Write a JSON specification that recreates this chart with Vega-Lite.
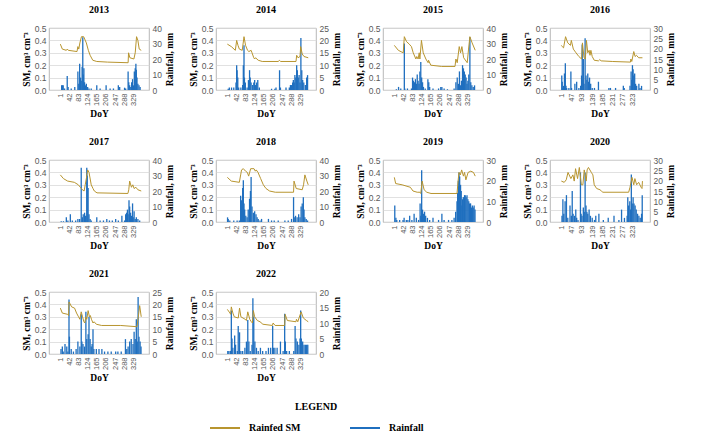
{
"$schema": "https://vega.github.io/schema/vega-lite/v6.json",
"padding": {"left": 20, "top": 4, "right": 4, "bottom": 4},
"spacing": 17,
"datasets": {
"sm": [
{"y":2013,"d":1,"v":0.37},{"y":2013,"d":10,"v":0.33},{"y":2013,"d":28,"v":0.32},{"y":2013,"d":32,"v":0.33},{"y":2013,"d":37,"v":0.32},{"y":2013,"d":76,"v":0.31},{"y":2013,"d":80,"v":0.35},{"y":2013,"d":84,"v":0.33},{"y":2013,"d":89,"v":0.38},{"y":2013,"d":96,"v":0.43},{"y":2013,"d":106,"v":0.43},{"y":2013,"d":118,"v":0.38},{"y":2013,"d":127,"v":0.32},{"y":2013,"d":135,"v":0.28},{"y":2013,"d":147,"v":0.24},{"y":2013,"d":165,"v":0.23},{"y":2013,"d":213,"v":0.225},{"y":2013,"d":306,"v":0.22},{"y":2013,"d":308,"v":0.30},{"y":2013,"d":314,"v":0.26},{"y":2013,"d":332,"v":0.25},{"y":2013,"d":338,"v":0.30},{"y":2013,"d":344,"v":0.43},{"y":2013,"d":350,"v":0.40},{"y":2013,"d":356,"v":0.33},{"y":2013,"d":365,"v":0.32},
{"y":2014,"d":1,"v":0.37},{"y":2014,"d":19,"v":0.35},{"y":2014,"d":37,"v":0.32},{"y":2014,"d":43,"v":0.40},{"y":2014,"d":49,"v":0.36},{"y":2014,"d":55,"v":0.33},{"y":2014,"d":68,"v":0.32},{"y":2014,"d":76,"v":0.43},{"y":2014,"d":83,"v":0.36},{"y":2014,"d":92,"v":0.32},{"y":2014,"d":98,"v":0.31},{"y":2014,"d":108,"v":0.32},{"y":2014,"d":112,"v":0.30},{"y":2014,"d":120,"v":0.26},{"y":2014,"d":124,"v":0.25},{"y":2014,"d":128,"v":0.26},{"y":2014,"d":140,"v":0.24},{"y":2014,"d":158,"v":0.23},{"y":2014,"d":231,"v":0.23},{"y":2014,"d":235,"v":0.24},{"y":2014,"d":241,"v":0.23},{"y":2014,"d":310,"v":0.23},{"y":2014,"d":313,"v":0.28},{"y":2014,"d":319,"v":0.26},{"y":2014,"d":328,"v":0.27},{"y":2014,"d":331,"v":0.35},{"y":2014,"d":338,"v":0.29},{"y":2014,"d":346,"v":0.27},{"y":2014,"d":365,"v":0.26},
{"y":2015,"d":1,"v":0.36},{"y":2015,"d":19,"v":0.32},{"y":2015,"d":41,"v":0.30},{"y":2015,"d":46,"v":0.43},{"y":2015,"d":56,"v":0.39},{"y":2015,"d":68,"v":0.37},{"y":2015,"d":78,"v":0.35},{"y":2015,"d":86,"v":0.30},{"y":2015,"d":98,"v":0.25},{"y":2015,"d":102,"v":0.27},{"y":2015,"d":108,"v":0.25},{"y":2015,"d":113,"v":0.30},{"y":2015,"d":116,"v":0.25},{"y":2015,"d":123,"v":0.40},{"y":2015,"d":131,"v":0.30},{"y":2015,"d":143,"v":0.25},{"y":2015,"d":153,"v":0.22},{"y":2015,"d":155,"v":0.24},{"y":2015,"d":165,"v":0.20},{"y":2015,"d":214,"v":0.19},{"y":2015,"d":274,"v":0.19},{"y":2015,"d":278,"v":0.25},{"y":2015,"d":284,"v":0.22},{"y":2015,"d":293,"v":0.35},{"y":2015,"d":299,"v":0.30},{"y":2015,"d":305,"v":0.35},{"y":2015,"d":313,"v":0.26},{"y":2015,"d":329,"v":0.22},{"y":2015,"d":335,"v":0.33},{"y":2015,"d":341,"v":0.43},{"y":2015,"d":351,"v":0.38},{"y":2015,"d":365,"v":0.32},
{"y":2016,"d":1,"v":0.36},{"y":2016,"d":5,"v":0.35},{"y":2016,"d":11,"v":0.34},{"y":2016,"d":20,"v":0.43},{"y":2016,"d":30,"v":0.38},{"y":2016,"d":42,"v":0.36},{"y":2016,"d":46,"v":0.40},{"y":2016,"d":55,"v":0.33},{"y":2016,"d":67,"v":0.30},{"y":2016,"d":80,"v":0.27},{"y":2016,"d":92,"v":0.25},{"y":2016,"d":96,"v":0.38},{"y":2016,"d":103,"v":0.26},{"y":2016,"d":109,"v":0.25},{"y":2016,"d":114,"v":0.40},{"y":2016,"d":120,"v":0.30},{"y":2016,"d":126,"v":0.32},{"y":2016,"d":130,"v":0.28},{"y":2016,"d":134,"v":0.32},{"y":2016,"d":140,"v":0.27},{"y":2016,"d":149,"v":0.24},{"y":2016,"d":168,"v":0.235},{"y":2016,"d":174,"v":0.245},{"y":2016,"d":180,"v":0.235},{"y":2016,"d":230,"v":0.23},{"y":2016,"d":312,"v":0.225},{"y":2016,"d":314,"v":0.25},{"y":2016,"d":318,"v":0.23},{"y":2016,"d":327,"v":0.31},{"y":2016,"d":333,"v":0.27},{"y":2016,"d":339,"v":0.28},{"y":2016,"d":349,"v":0.26},{"y":2016,"d":366,"v":0.26},
{"y":2017,"d":1,"v":0.38},{"y":2017,"d":15,"v":0.35},{"y":2017,"d":34,"v":0.33},{"y":2017,"d":64,"v":0.32},{"y":2017,"d":82,"v":0.30},{"y":2017,"d":91,"v":0.28},{"y":2017,"d":100,"v":0.26},{"y":2017,"d":108,"v":0.25},{"y":2017,"d":113,"v":0.30},{"y":2017,"d":118,"v":0.35},{"y":2017,"d":124,"v":0.42},{"y":2017,"d":130,"v":0.40},{"y":2017,"d":140,"v":0.30},{"y":2017,"d":148,"v":0.27},{"y":2017,"d":154,"v":0.25},{"y":2017,"d":166,"v":0.235},{"y":2017,"d":305,"v":0.23},{"y":2017,"d":309,"v":0.26},{"y":2017,"d":313,"v":0.33},{"y":2017,"d":321,"v":0.28},{"y":2017,"d":327,"v":0.30},{"y":2017,"d":333,"v":0.27},{"y":2017,"d":341,"v":0.28},{"y":2017,"d":350,"v":0.26},{"y":2017,"d":365,"v":0.25},
{"y":2018,"d":1,"v":0.36},{"y":2018,"d":19,"v":0.33},{"y":2018,"d":55,"v":0.32},{"y":2018,"d":61,"v":0.38},{"y":2018,"d":65,"v":0.42},{"y":2018,"d":73,"v":0.43},{"y":2018,"d":83,"v":0.41},{"y":2018,"d":91,"v":0.40},{"y":2018,"d":97,"v":0.37},{"y":2018,"d":106,"v":0.43},{"y":2018,"d":121,"v":0.43},{"y":2018,"d":127,"v":0.41},{"y":2018,"d":131,"v":0.42},{"y":2018,"d":139,"v":0.40},{"y":2018,"d":151,"v":0.35},{"y":2018,"d":163,"v":0.30},{"y":2018,"d":175,"v":0.27},{"y":2018,"d":191,"v":0.25},{"y":2018,"d":217,"v":0.24},{"y":2018,"d":299,"v":0.24},{"y":2018,"d":301,"v":0.33},{"y":2018,"d":311,"v":0.27},{"y":2018,"d":338,"v":0.26},{"y":2018,"d":344,"v":0.30},{"y":2018,"d":350,"v":0.38},{"y":2018,"d":359,"v":0.33},{"y":2018,"d":365,"v":0.30},
{"y":2019,"d":1,"v":0.36},{"y":2019,"d":7,"v":0.31},{"y":2019,"d":36,"v":0.30},{"y":2019,"d":73,"v":0.28},{"y":2019,"d":85,"v":0.25},{"y":2019,"d":104,"v":0.24},{"y":2019,"d":116,"v":0.24},{"y":2019,"d":120,"v":0.23},{"y":2019,"d":126,"v":0.33},{"y":2019,"d":135,"v":0.26},{"y":2019,"d":147,"v":0.24},{"y":2019,"d":166,"v":0.23},{"y":2019,"d":283,"v":0.23},{"y":2019,"d":289,"v":0.35},{"y":2019,"d":292,"v":0.40},{"y":2019,"d":298,"v":0.38},{"y":2019,"d":304,"v":0.42},{"y":2019,"d":312,"v":0.37},{"y":2019,"d":317,"v":0.40},{"y":2019,"d":323,"v":0.34},{"y":2019,"d":333,"v":0.40},{"y":2019,"d":345,"v":0.41},{"y":2019,"d":357,"v":0.40},{"y":2019,"d":365,"v":0.37},
{"y":2020,"d":1,"v":0.33},{"y":2020,"d":14,"v":0.32},{"y":2020,"d":23,"v":0.34},{"y":2020,"d":31,"v":0.40},{"y":2020,"d":44,"v":0.35},{"y":2020,"d":53,"v":0.38},{"y":2020,"d":59,"v":0.33},{"y":2020,"d":65,"v":0.43},{"y":2020,"d":74,"v":0.35},{"y":2020,"d":82,"v":0.44},{"y":2020,"d":91,"v":0.30},{"y":2020,"d":98,"v":0.30},{"y":2020,"d":104,"v":0.42},{"y":2020,"d":113,"v":0.33},{"y":2020,"d":117,"v":0.42},{"y":2020,"d":123,"v":0.44},{"y":2020,"d":136,"v":0.40},{"y":2020,"d":143,"v":0.38},{"y":2020,"d":149,"v":0.30},{"y":2020,"d":160,"v":0.27},{"y":2020,"d":175,"v":0.26},{"y":2020,"d":181,"v":0.25},{"y":2020,"d":188,"v":0.24},{"y":2020,"d":304,"v":0.24},{"y":2020,"d":310,"v":0.28},{"y":2020,"d":319,"v":0.36},{"y":2020,"d":327,"v":0.30},{"y":2020,"d":332,"v":0.35},{"y":2020,"d":340,"v":0.30},{"y":2020,"d":349,"v":0.32},{"y":2020,"d":360,"v":0.28},{"y":2020,"d":364,"v":0.27},{"y":2020,"d":366,"v":0.33},
{"y":2021,"d":1,"v":0.37},{"y":2021,"d":10,"v":0.33},{"y":2021,"d":34,"v":0.32},{"y":2021,"d":38,"v":0.31},{"y":2021,"d":40,"v":0.42},{"y":2021,"d":52,"v":0.38},{"y":2021,"d":65,"v":0.37},{"y":2021,"d":74,"v":0.33},{"y":2021,"d":83,"v":0.30},{"y":2021,"d":89,"v":0.28},{"y":2021,"d":95,"v":0.34},{"y":2021,"d":101,"v":0.30},{"y":2021,"d":107,"v":0.26},{"y":2021,"d":111,"v":0.25},{"y":2021,"d":116,"v":0.30},{"y":2021,"d":120,"v":0.28},{"y":2021,"d":126,"v":0.35},{"y":2021,"d":132,"v":0.30},{"y":2021,"d":136,"v":0.31},{"y":2021,"d":141,"v":0.28},{"y":2021,"d":148,"v":0.25},{"y":2021,"d":153,"v":0.26},{"y":2021,"d":163,"v":0.24},{"y":2021,"d":187,"v":0.23},{"y":2021,"d":273,"v":0.23},{"y":2021,"d":346,"v":0.22},{"y":2021,"d":352,"v":0.30},{"y":2021,"d":358,"v":0.39},{"y":2021,"d":365,"v":0.30},
{"y":2022,"d":1,"v":0.36},{"y":2022,"d":13,"v":0.33},{"y":2022,"d":16,"v":0.32},{"y":2022,"d":19,"v":0.38},{"y":2022,"d":26,"v":0.33},{"y":2022,"d":32,"v":0.30},{"y":2022,"d":50,"v":0.29},{"y":2022,"d":56,"v":0.37},{"y":2022,"d":62,"v":0.30},{"y":2022,"d":81,"v":0.28},{"y":2022,"d":87,"v":0.27},{"y":2022,"d":93,"v":0.34},{"y":2022,"d":102,"v":0.28},{"y":2022,"d":109,"v":0.26},{"y":2022,"d":114,"v":0.25},{"y":2022,"d":118,"v":0.35},{"y":2022,"d":124,"v":0.30},{"y":2022,"d":136,"v":0.27},{"y":2022,"d":148,"v":0.26},{"y":2022,"d":161,"v":0.24},{"y":2022,"d":204,"v":0.23},{"y":2022,"d":207,"v":0.25},{"y":2022,"d":216,"v":0.23},{"y":2022,"d":259,"v":0.23},{"y":2022,"d":261,"v":0.32},{"y":2022,"d":271,"v":0.27},{"y":2022,"d":310,"v":0.26},{"y":2022,"d":312,"v":0.28},{"y":2022,"d":318,"v":0.26},{"y":2022,"d":333,"v":0.34},{"y":2022,"d":343,"v":0.29},{"y":2022,"d":357,"v":0.27},{"y":2022,"d":365,"v":0.26}
],
"rain": [
{"y":2013,"d":7,"r":3},{"y":2013,"d":10,"r":3},{"y":2013,"d":14,"r":3},{"y":2013,"d":20,"r":1},{"y":2013,"d":32,"r":9},{"y":2013,"d":36,"r":2},{"y":2013,"d":50,"r":1},{"y":2013,"d":66,"r":2},{"y":2013,"d":80,"r":12},{"y":2013,"d":84,"r":4},{"y":2013,"d":88,"r":17},{"y":2013,"d":92,"r":8},{"y":2013,"d":95,"r":6},{"y":2013,"d":99,"r":15},{"y":2013,"d":102,"r":34},{"y":2013,"d":104,"r":10},{"y":2013,"d":107,"r":14},{"y":2013,"d":110,"r":5},{"y":2013,"d":114,"r":3},{"y":2013,"d":118,"r":4},{"y":2013,"d":124,"r":2},{"y":2013,"d":130,"r":1},{"y":2013,"d":140,"r":1},{"y":2013,"d":165,"r":3},{"y":2013,"d":180,"r":1},{"y":2013,"d":207,"r":3},{"y":2013,"d":225,"r":1},{"y":2013,"d":240,"r":1},{"y":2013,"d":262,"r":3},{"y":2013,"d":268,"r":2},{"y":2013,"d":290,"r":1.5},{"y":2013,"d":295,"r":1},{"y":2013,"d":306,"r":12},{"y":2013,"d":309,"r":5},{"y":2013,"d":313,"r":3},{"y":2013,"d":318,"r":2},{"y":2013,"d":322,"r":5},{"y":2013,"d":326,"r":7},{"y":2013,"d":330,"r":3},{"y":2013,"d":334,"r":12},{"y":2013,"d":338,"r":14},{"y":2013,"d":341,"r":17},{"y":2013,"d":343,"r":13},{"y":2013,"d":346,"r":8},{"y":2013,"d":350,"r":4},{"y":2013,"d":355,"r":3},{"y":2013,"d":360,"r":2},
{"y":2014,"d":5,"r":0.5},{"y":2014,"d":10,"r":1},{"y":2014,"d":20,"r":1},{"y":2014,"d":30,"r":1},{"y":2014,"d":40,"r":3},{"y":2014,"d":43,"r":10},{"y":2014,"d":45,"r":8},{"y":2014,"d":48,"r":5},{"y":2014,"d":52,"r":1},{"y":2014,"d":62,"r":1},{"y":2014,"d":70,"r":2},{"y":2014,"d":73,"r":10},{"y":2014,"d":76,"r":18},{"y":2014,"d":78,"r":5},{"y":2014,"d":82,"r":3},{"y":2014,"d":90,"r":1},{"y":2014,"d":96,"r":4},{"y":2014,"d":101,"r":8},{"y":2014,"d":104,"r":5},{"y":2014,"d":108,"r":3},{"y":2014,"d":115,"r":2},{"y":2014,"d":120,"r":3},{"y":2014,"d":124,"r":4},{"y":2014,"d":128,"r":2},{"y":2014,"d":133,"r":3},{"y":2014,"d":138,"r":4},{"y":2014,"d":145,"r":1},{"y":2014,"d":200,"r":0.5},{"y":2014,"d":215,"r":0.5},{"y":2014,"d":220,"r":1},{"y":2014,"d":236,"r":8},{"y":2014,"d":240,"r":1},{"y":2014,"d":265,"r":1},{"y":2014,"d":280,"r":1},{"y":2014,"d":285,"r":2},{"y":2014,"d":290,"r":2},{"y":2014,"d":295,"r":3},{"y":2014,"d":298,"r":4},{"y":2014,"d":302,"r":3},{"y":2014,"d":305,"r":6},{"y":2014,"d":309,"r":5},{"y":2014,"d":313,"r":10},{"y":2014,"d":316,"r":8},{"y":2014,"d":320,"r":5},{"y":2014,"d":324,"r":6},{"y":2014,"d":328,"r":3},{"y":2014,"d":332,"r":21},{"y":2014,"d":336,"r":8},{"y":2014,"d":340,"r":4},{"y":2014,"d":345,"r":3},{"y":2014,"d":352,"r":2},{"y":2014,"d":358,"r":5},{"y":2014,"d":362,"r":6},
{"y":2015,"d":10,"r":0.5},{"y":2015,"d":20,"r":2},{"y":2015,"d":30,"r":1},{"y":2015,"d":46,"r":30},{"y":2015,"d":48,"r":1},{"y":2015,"d":60,"r":1},{"y":2015,"d":78,"r":1},{"y":2015,"d":83,"r":8},{"y":2015,"d":87,"r":6},{"y":2015,"d":92,"r":5},{"y":2015,"d":96,"r":7},{"y":2015,"d":100,"r":4},{"y":2015,"d":104,"r":10},{"y":2015,"d":108,"r":6},{"y":2015,"d":112,"r":4},{"y":2015,"d":116,"r":12},{"y":2015,"d":120,"r":18},{"y":2015,"d":124,"r":8},{"y":2015,"d":128,"r":5},{"y":2015,"d":132,"r":2},{"y":2015,"d":140,"r":1},{"y":2015,"d":152,"r":7},{"y":2015,"d":156,"r":5},{"y":2015,"d":160,"r":2},{"y":2015,"d":175,"r":1},{"y":2015,"d":200,"r":1},{"y":2015,"d":210,"r":2},{"y":2015,"d":215,"r":2},{"y":2015,"d":225,"r":1},{"y":2015,"d":240,"r":0.5},{"y":2015,"d":270,"r":1},{"y":2015,"d":278,"r":5},{"y":2015,"d":284,"r":8},{"y":2015,"d":290,"r":4},{"y":2015,"d":294,"r":12},{"y":2015,"d":298,"r":3},{"y":2015,"d":303,"r":6},{"y":2015,"d":308,"r":16},{"y":2015,"d":312,"r":14},{"y":2015,"d":316,"r":12},{"y":2015,"d":320,"r":10},{"y":2015,"d":324,"r":8},{"y":2015,"d":328,"r":4},{"y":2015,"d":332,"r":6},{"y":2015,"d":336,"r":10},{"y":2015,"d":341,"r":34},{"y":2015,"d":345,"r":5},{"y":2015,"d":350,"r":3},{"y":2015,"d":356,"r":2},{"y":2015,"d":362,"r":3},
{"y":2016,"d":3,"r":7},{"y":2016,"d":5,"r":4},{"y":2016,"d":8,"r":1},{"y":2016,"d":11,"r":2},{"y":2016,"d":15,"r":8},{"y":2016,"d":19,"r":13},{"y":2016,"d":22,"r":2},{"y":2016,"d":25,"r":1},{"y":2016,"d":35,"r":1},{"y":2016,"d":44,"r":9},{"y":2016,"d":47,"r":1},{"y":2016,"d":62,"r":3},{"y":2016,"d":70,"r":4},{"y":2016,"d":80,"r":1},{"y":2016,"d":88,"r":2},{"y":2016,"d":92,"r":7},{"y":2016,"d":95,"r":22},{"y":2016,"d":98,"r":5},{"y":2016,"d":100,"r":15},{"y":2016,"d":103,"r":3},{"y":2016,"d":108,"r":25},{"y":2016,"d":112,"r":7},{"y":2016,"d":116,"r":5},{"y":2016,"d":120,"r":8},{"y":2016,"d":124,"r":4},{"y":2016,"d":128,"r":6},{"y":2016,"d":133,"r":3},{"y":2016,"d":140,"r":1},{"y":2016,"d":150,"r":1},{"y":2016,"d":168,"r":4},{"y":2016,"d":215,"r":1},{"y":2016,"d":222,"r":1},{"y":2016,"d":245,"r":1},{"y":2016,"d":280,"r":2},{"y":2016,"d":284,"r":1},{"y":2016,"d":310,"r":2},{"y":2016,"d":315,"r":9},{"y":2016,"d":318,"r":5},{"y":2016,"d":321,"r":12},{"y":2016,"d":324,"r":10},{"y":2016,"d":327,"r":7},{"y":2016,"d":331,"r":8},{"y":2016,"d":335,"r":3},{"y":2016,"d":340,"r":2},{"y":2016,"d":350,"r":3},{"y":2016,"d":355,"r":1},{"y":2016,"d":362,"r":2},
{"y":2017,"d":5,"r":0.5},{"y":2017,"d":15,"r":0.5},{"y":2017,"d":28,"r":3},{"y":2017,"d":35,"r":1},{"y":2017,"d":46,"r":5},{"y":2017,"d":55,"r":1},{"y":2017,"d":70,"r":1},{"y":2017,"d":80,"r":2},{"y":2017,"d":88,"r":2},{"y":2017,"d":95,"r":35},{"y":2017,"d":100,"r":3},{"y":2017,"d":104,"r":5},{"y":2017,"d":110,"r":6},{"y":2017,"d":115,"r":4},{"y":2017,"d":120,"r":35},{"y":2017,"d":122,"r":30},{"y":2017,"d":126,"r":22},{"y":2017,"d":130,"r":5},{"y":2017,"d":135,"r":2},{"y":2017,"d":140,"r":1},{"y":2017,"d":165,"r":3},{"y":2017,"d":180,"r":1},{"y":2017,"d":195,"r":1},{"y":2017,"d":210,"r":2},{"y":2017,"d":222,"r":1},{"y":2017,"d":235,"r":1},{"y":2017,"d":250,"r":2},{"y":2017,"d":262,"r":1},{"y":2017,"d":278,"r":4},{"y":2017,"d":290,"r":1},{"y":2017,"d":295,"r":5},{"y":2017,"d":299,"r":6},{"y":2017,"d":303,"r":8},{"y":2017,"d":306,"r":5},{"y":2017,"d":310,"r":14},{"y":2017,"d":313,"r":10},{"y":2017,"d":317,"r":6},{"y":2017,"d":321,"r":4},{"y":2017,"d":326,"r":12},{"y":2017,"d":329,"r":3},{"y":2017,"d":333,"r":7},{"y":2017,"d":338,"r":2},{"y":2017,"d":343,"r":3},{"y":2017,"d":350,"r":2},{"y":2017,"d":358,"r":1},
{"y":2018,"d":2,"r":3},{"y":2018,"d":5,"r":2},{"y":2018,"d":12,"r":1},{"y":2018,"d":30,"r":1},{"y":2018,"d":45,"r":1},{"y":2018,"d":55,"r":1},{"y":2018,"d":61,"r":17},{"y":2018,"d":64,"r":14},{"y":2018,"d":66,"r":10},{"y":2018,"d":70,"r":22},{"y":2018,"d":73,"r":27},{"y":2018,"d":76,"r":12},{"y":2018,"d":79,"r":8},{"y":2018,"d":84,"r":4},{"y":2018,"d":90,"r":3},{"y":2018,"d":95,"r":8},{"y":2018,"d":101,"r":15},{"y":2018,"d":105,"r":20},{"y":2018,"d":108,"r":29},{"y":2018,"d":112,"r":10},{"y":2018,"d":118,"r":6},{"y":2018,"d":124,"r":7},{"y":2018,"d":130,"r":5},{"y":2018,"d":135,"r":3},{"y":2018,"d":140,"r":2},{"y":2018,"d":148,"r":1},{"y":2018,"d":155,"r":2},{"y":2018,"d":186,"r":2},{"y":2018,"d":200,"r":1},{"y":2018,"d":212,"r":1},{"y":2018,"d":230,"r":1},{"y":2018,"d":260,"r":1},{"y":2018,"d":275,"r":1},{"y":2018,"d":290,"r":2},{"y":2018,"d":299,"r":16},{"y":2018,"d":302,"r":3},{"y":2018,"d":308,"r":4},{"y":2018,"d":315,"r":3},{"y":2018,"d":322,"r":5},{"y":2018,"d":328,"r":3},{"y":2018,"d":333,"r":10},{"y":2018,"d":338,"r":12},{"y":2018,"d":343,"r":16},{"y":2018,"d":346,"r":8},{"y":2018,"d":350,"r":3},{"y":2018,"d":356,"r":2},{"y":2018,"d":362,"r":1},
{"y":2019,"d":3,"r":8},{"y":2019,"d":8,"r":2},{"y":2019,"d":12,"r":1},{"y":2019,"d":25,"r":1},{"y":2019,"d":40,"r":1},{"y":2019,"d":45,"r":2},{"y":2019,"d":55,"r":1},{"y":2019,"d":62,"r":1},{"y":2019,"d":70,"r":3},{"y":2019,"d":80,"r":1},{"y":2019,"d":90,"r":4},{"y":2019,"d":100,"r":2},{"y":2019,"d":110,"r":1},{"y":2019,"d":117,"r":9},{"y":2019,"d":120,"r":3},{"y":2019,"d":124,"r":25},{"y":2019,"d":128,"r":6},{"y":2019,"d":133,"r":4},{"y":2019,"d":137,"r":5},{"y":2019,"d":142,"r":3},{"y":2019,"d":150,"r":2},{"y":2019,"d":160,"r":1},{"y":2019,"d":175,"r":2},{"y":2019,"d":200,"r":1},{"y":2019,"d":215,"r":4},{"y":2019,"d":225,"r":1},{"y":2019,"d":245,"r":1},{"y":2019,"d":260,"r":1},{"y":2019,"d":270,"r":2},{"y":2019,"d":277,"r":5},{"y":2019,"d":283,"r":10},{"y":2019,"d":286,"r":14},{"y":2019,"d":289,"r":20},{"y":2019,"d":292,"r":24},{"y":2019,"d":295,"r":22},{"y":2019,"d":299,"r":18},{"y":2019,"d":302,"r":15},{"y":2019,"d":305,"r":8},{"y":2019,"d":308,"r":11},{"y":2019,"d":311,"r":12},{"y":2019,"d":314,"r":12},{"y":2019,"d":317,"r":13},{"y":2019,"d":320,"r":13},{"y":2019,"d":324,"r":12},{"y":2019,"d":328,"r":13},{"y":2019,"d":332,"r":11},{"y":2019,"d":336,"r":10},{"y":2019,"d":340,"r":9},{"y":2019,"d":344,"r":9},{"y":2019,"d":348,"r":7},{"y":2019,"d":352,"r":8},{"y":2019,"d":356,"r":7},{"y":2019,"d":360,"r":8},{"y":2019,"d":364,"r":6},
{"y":2020,"d":4,"r":3},{"y":2020,"d":8,"r":11},{"y":2020,"d":12,"r":4},{"y":2020,"d":18,"r":10},{"y":2020,"d":24,"r":13},{"y":2020,"d":30,"r":2},{"y":2020,"d":40,"r":8},{"y":2020,"d":46,"r":3},{"y":2020,"d":50,"r":15},{"y":2020,"d":54,"r":4},{"y":2020,"d":60,"r":3},{"y":2020,"d":66,"r":6},{"y":2020,"d":70,"r":2},{"y":2020,"d":76,"r":1},{"y":2020,"d":87,"r":24},{"y":2020,"d":90,"r":4},{"y":2020,"d":94,"r":3},{"y":2020,"d":100,"r":7},{"y":2020,"d":104,"r":5},{"y":2020,"d":108,"r":24},{"y":2020,"d":112,"r":8},{"y":2020,"d":116,"r":5},{"y":2020,"d":120,"r":4},{"y":2020,"d":126,"r":6},{"y":2020,"d":132,"r":3},{"y":2020,"d":140,"r":2},{"y":2020,"d":150,"r":1},{"y":2020,"d":156,"r":3},{"y":2020,"d":170,"r":4},{"y":2020,"d":190,"r":1},{"y":2020,"d":212,"r":2},{"y":2020,"d":238,"r":3},{"y":2020,"d":260,"r":1},{"y":2020,"d":272,"r":6},{"y":2020,"d":285,"r":2},{"y":2020,"d":297,"r":3},{"y":2020,"d":300,"r":12},{"y":2020,"d":304,"r":8},{"y":2020,"d":309,"r":10},{"y":2020,"d":313,"r":6},{"y":2020,"d":316,"r":23},{"y":2020,"d":320,"r":9},{"y":2020,"d":324,"r":12},{"y":2020,"d":328,"r":9},{"y":2020,"d":333,"r":8},{"y":2020,"d":338,"r":6},{"y":2020,"d":344,"r":4},{"y":2020,"d":350,"r":3},{"y":2020,"d":356,"r":2},{"y":2020,"d":362,"r":4},{"y":2020,"d":365,"r":13},
{"y":2021,"d":4,"r":2},{"y":2021,"d":10,"r":3},{"y":2021,"d":14,"r":1},{"y":2021,"d":22,"r":4},{"y":2021,"d":30,"r":3},{"y":2021,"d":35,"r":1},{"y":2021,"d":40,"r":22},{"y":2021,"d":42,"r":7},{"y":2021,"d":50,"r":2},{"y":2021,"d":60,"r":1},{"y":2021,"d":72,"r":2},{"y":2021,"d":80,"r":5},{"y":2021,"d":89,"r":3},{"y":2021,"d":95,"r":16},{"y":2021,"d":98,"r":5},{"y":2021,"d":103,"r":4},{"y":2021,"d":110,"r":3},{"y":2021,"d":116,"r":17},{"y":2021,"d":120,"r":6},{"y":2021,"d":126,"r":8},{"y":2021,"d":130,"r":15},{"y":2021,"d":135,"r":6},{"y":2021,"d":140,"r":3},{"y":2021,"d":144,"r":4},{"y":2021,"d":148,"r":10},{"y":2021,"d":152,"r":2},{"y":2021,"d":163,"r":2},{"y":2021,"d":175,"r":2},{"y":2021,"d":188,"r":2},{"y":2021,"d":200,"r":1},{"y":2021,"d":215,"r":1},{"y":2021,"d":230,"r":1},{"y":2021,"d":250,"r":1},{"y":2021,"d":260,"r":1},{"y":2021,"d":275,"r":1},{"y":2021,"d":294,"r":6},{"y":2021,"d":300,"r":2},{"y":2021,"d":306,"r":3},{"y":2021,"d":313,"r":5},{"y":2021,"d":320,"r":6},{"y":2021,"d":328,"r":4},{"y":2021,"d":333,"r":9},{"y":2021,"d":338,"r":6},{"y":2021,"d":343,"r":14},{"y":2021,"d":347,"r":5},{"y":2021,"d":351,"r":23},{"y":2021,"d":355,"r":7},{"y":2021,"d":360,"r":5},{"y":2021,"d":364,"r":3},
{"y":2022,"d":3,"r":1},{"y":2022,"d":8,"r":1},{"y":2022,"d":15,"r":1},{"y":2022,"d":19,"r":14},{"y":2022,"d":22,"r":5},{"y":2022,"d":26,"r":2},{"y":2022,"d":34,"r":6},{"y":2022,"d":38,"r":3},{"y":2022,"d":46,"r":1},{"y":2022,"d":50,"r":9},{"y":2022,"d":56,"r":7},{"y":2022,"d":62,"r":1},{"y":2022,"d":70,"r":1},{"y":2022,"d":80,"r":2},{"y":2022,"d":87,"r":4},{"y":2022,"d":93,"r":11},{"y":2022,"d":98,"r":4},{"y":2022,"d":104,"r":1},{"y":2022,"d":112,"r":3},{"y":2022,"d":116,"r":18},{"y":2022,"d":120,"r":12},{"y":2022,"d":125,"r":4},{"y":2022,"d":132,"r":2},{"y":2022,"d":140,"r":1},{"y":2022,"d":150,"r":2},{"y":2022,"d":160,"r":1},{"y":2022,"d":175,"r":1},{"y":2022,"d":186,"r":2},{"y":2022,"d":196,"r":2},{"y":2022,"d":205,"r":9},{"y":2022,"d":208,"r":2},{"y":2022,"d":215,"r":2},{"y":2022,"d":225,"r":2},{"y":2022,"d":240,"r":4},{"y":2022,"d":252,"r":1},{"y":2022,"d":259,"r":13},{"y":2022,"d":262,"r":4},{"y":2022,"d":268,"r":1},{"y":2022,"d":280,"r":1},{"y":2022,"d":300,"r":1},{"y":2022,"d":306,"r":9},{"y":2022,"d":310,"r":5},{"y":2022,"d":316,"r":4},{"y":2022,"d":323,"r":3},{"y":2022,"d":328,"r":5},{"y":2022,"d":331,"r":14},{"y":2022,"d":334,"r":5},{"y":2022,"d":340,"r":4},{"y":2022,"d":346,"r":3},{"y":2022,"d":352,"r":3},{"y":2022,"d":358,"r":3},{"y":2022,"d":363,"r":3}
]
},
"vconcat": [
{"spacing": 12, "hconcat": [
{"title":"2013","layer":[
{"data":{"name":"rain"},"transform":[{"filter":"datum.y==2013"}],"mark":{"type":"bar","width":1.3,"color":"#1F6FBF"},"encoding":{"x":{"field":"d","type":"quantitative","scale":{"domain":[0,366]},"axis":{"values":[1,42,83,124,165,206,247,288,329],"tickCount":30,"title":"DoY","labelOverlap":false,"labelAngle":270,"labelFlush":false,"labelFontSize":7.5}},"y":{"field":"r","type":"quantitative","scale":{"domain":[0,40]},"axis":{"orient":"right","values":[0,10,20,30,40],"title":"Rainfall, mm"}}}},
{"data":{"name":"sm"},"transform":[{"filter":"datum.y==2013"}],"mark":{"type":"line","strokeWidth":1},"encoding":{"x":{"field":"d","type":"quantitative"},"y":{"field":"v","type":"quantitative","scale":{"domain":[0,0.5]},"axis":{"orient":"left","values":[0,0.1,0.2,0.3,0.4,0.5],"title":"SM, cm³ cm⁻³","grid":true}},"color":{"datum":"Rainfed SM","title":"LEGEND","scale":{"domain":["Rainfed SM","Rainfall"],"range":["#B8952F","#1F6FBF"]}}}}
],"resolve":{"scale":{"y":"independent"}}},
{"title":"2014","layer":[
{"data":{"name":"rain"},"transform":[{"filter":"datum.y==2014"}],"mark":{"type":"bar","width":1.3,"color":"#1F6FBF"},"encoding":{"x":{"field":"d","type":"quantitative","scale":{"domain":[0,366]},"axis":{"values":[1,42,83,124,165,206,247,288,329],"tickCount":30,"title":"DoY","labelOverlap":false,"labelAngle":270,"labelFlush":false,"labelFontSize":7.5}},"y":{"field":"r","type":"quantitative","scale":{"domain":[0,25]},"axis":{"orient":"right","values":[0,5,10,15,20,25],"title":"Rainfall, mm"}}}},
{"data":{"name":"sm"},"transform":[{"filter":"datum.y==2014"}],"mark":{"type":"line","strokeWidth":1},"encoding":{"x":{"field":"d","type":"quantitative"},"y":{"field":"v","type":"quantitative","scale":{"domain":[0,0.5]},"axis":{"orient":"left","values":[0,0.1,0.2,0.3,0.4,0.5],"title":"SM, cm³ cm⁻³","grid":true}},"color":{"datum":"Rainfed SM","title":"LEGEND","scale":{"domain":["Rainfed SM","Rainfall"],"range":["#B8952F","#1F6FBF"]}}}}
],"resolve":{"scale":{"y":"independent"}}},
{"title":"2015","layer":[
{"data":{"name":"rain"},"transform":[{"filter":"datum.y==2015"}],"mark":{"type":"bar","width":1.3,"color":"#1F6FBF"},"encoding":{"x":{"field":"d","type":"quantitative","scale":{"domain":[0,366]},"axis":{"values":[1,42,83,124,165,206,247,288,329],"tickCount":30,"title":"DoY","labelOverlap":false,"labelAngle":270,"labelFlush":false,"labelFontSize":7.5}},"y":{"field":"r","type":"quantitative","scale":{"domain":[0,40]},"axis":{"orient":"right","values":[0,10,20,30,40],"title":"Rainfall, mm"}}}},
{"data":{"name":"sm"},"transform":[{"filter":"datum.y==2015"}],"mark":{"type":"line","strokeWidth":1},"encoding":{"x":{"field":"d","type":"quantitative"},"y":{"field":"v","type":"quantitative","scale":{"domain":[0,0.5]},"axis":{"orient":"left","values":[0,0.1,0.2,0.3,0.4,0.5],"title":"SM, cm³ cm⁻³","grid":true}},"color":{"datum":"Rainfed SM","title":"LEGEND","scale":{"domain":["Rainfed SM","Rainfall"],"range":["#B8952F","#1F6FBF"]}}}}
],"resolve":{"scale":{"y":"independent"}}},
{"title":"2016","layer":[
{"data":{"name":"rain"},"transform":[{"filter":"datum.y==2016"}],"mark":{"type":"bar","width":1.3,"color":"#1F6FBF"},"encoding":{"x":{"field":"d","type":"quantitative","scale":{"domain":[0,367]},"axis":{"values":[1,47,93,139,185,231,277,323],"tickCount":30,"title":"DoY","labelOverlap":false,"labelAngle":270,"labelFlush":false,"labelFontSize":7.5}},"y":{"field":"r","type":"quantitative","scale":{"domain":[0,30]},"axis":{"orient":"right","values":[0,5,10,15,20,25,30],"title":"Rainfall, mm"}}}},
{"data":{"name":"sm"},"transform":[{"filter":"datum.y==2016"}],"mark":{"type":"line","strokeWidth":1},"encoding":{"x":{"field":"d","type":"quantitative"},"y":{"field":"v","type":"quantitative","scale":{"domain":[0,0.5]},"axis":{"orient":"left","values":[0,0.1,0.2,0.3,0.4,0.5],"title":"SM, cm³ cm⁻³","grid":true}},"color":{"datum":"Rainfed SM","title":"LEGEND","scale":{"domain":["Rainfed SM","Rainfall"],"range":["#B8952F","#1F6FBF"]}}}}
],"resolve":{"scale":{"y":"independent"}}}
]},
{"spacing": 12, "hconcat": [
{"title":"2017","layer":[
{"data":{"name":"rain"},"transform":[{"filter":"datum.y==2017"}],"mark":{"type":"bar","width":1.3,"color":"#1F6FBF"},"encoding":{"x":{"field":"d","type":"quantitative","scale":{"domain":[0,366]},"axis":{"values":[1,42,83,124,165,206,247,288,329],"tickCount":30,"title":"DoY","labelOverlap":false,"labelAngle":270,"labelFlush":false,"labelFontSize":7.5}},"y":{"field":"r","type":"quantitative","scale":{"domain":[0,40]},"axis":{"orient":"right","values":[0,10,20,30,40],"title":"Rainfall, mm"}}}},
{"data":{"name":"sm"},"transform":[{"filter":"datum.y==2017"}],"mark":{"type":"line","strokeWidth":1},"encoding":{"x":{"field":"d","type":"quantitative"},"y":{"field":"v","type":"quantitative","scale":{"domain":[0,0.5]},"axis":{"orient":"left","values":[0,0.1,0.2,0.3,0.4,0.5],"title":"SM, cm³ cm⁻³","grid":true}},"color":{"datum":"Rainfed SM","title":"LEGEND","scale":{"domain":["Rainfed SM","Rainfall"],"range":["#B8952F","#1F6FBF"]}}}}
],"resolve":{"scale":{"y":"independent"}}},
{"title":"2018","layer":[
{"data":{"name":"rain"},"transform":[{"filter":"datum.y==2018"}],"mark":{"type":"bar","width":1.3,"color":"#1F6FBF"},"encoding":{"x":{"field":"d","type":"quantitative","scale":{"domain":[0,366]},"axis":{"values":[1,42,83,124,165,206,247,288,329],"tickCount":30,"title":"DoY","labelOverlap":false,"labelAngle":270,"labelFlush":false,"labelFontSize":7.5}},"y":{"field":"r","type":"quantitative","scale":{"domain":[0,40]},"axis":{"orient":"right","values":[0,10,20,30,40],"title":"Rainfall, mm"}}}},
{"data":{"name":"sm"},"transform":[{"filter":"datum.y==2018"}],"mark":{"type":"line","strokeWidth":1},"encoding":{"x":{"field":"d","type":"quantitative"},"y":{"field":"v","type":"quantitative","scale":{"domain":[0,0.5]},"axis":{"orient":"left","values":[0,0.1,0.2,0.3,0.4,0.5],"title":"SM, cm³ cm⁻³","grid":true}},"color":{"datum":"Rainfed SM","title":"LEGEND","scale":{"domain":["Rainfed SM","Rainfall"],"range":["#B8952F","#1F6FBF"]}}}}
],"resolve":{"scale":{"y":"independent"}}},
{"title":"2019","layer":[
{"data":{"name":"rain"},"transform":[{"filter":"datum.y==2019"}],"mark":{"type":"bar","width":1.3,"color":"#1F6FBF"},"encoding":{"x":{"field":"d","type":"quantitative","scale":{"domain":[0,366]},"axis":{"values":[1,42,83,124,165,206,247,288,329],"tickCount":30,"title":"DoY","labelOverlap":false,"labelAngle":270,"labelFlush":false,"labelFontSize":7.5}},"y":{"field":"r","type":"quantitative","scale":{"domain":[0,30]},"axis":{"orient":"right","values":[0,10,20,30],"title":"Rainfall, mm"}}}},
{"data":{"name":"sm"},"transform":[{"filter":"datum.y==2019"}],"mark":{"type":"line","strokeWidth":1},"encoding":{"x":{"field":"d","type":"quantitative"},"y":{"field":"v","type":"quantitative","scale":{"domain":[0,0.5]},"axis":{"orient":"left","values":[0,0.1,0.2,0.3,0.4,0.5],"title":"SM, cm³ cm⁻³","grid":true}},"color":{"datum":"Rainfed SM","title":"LEGEND","scale":{"domain":["Rainfed SM","Rainfall"],"range":["#B8952F","#1F6FBF"]}}}}
],"resolve":{"scale":{"y":"independent"}}},
{"title":"2020","layer":[
{"data":{"name":"rain"},"transform":[{"filter":"datum.y==2020"}],"mark":{"type":"bar","width":1.3,"color":"#1F6FBF"},"encoding":{"x":{"field":"d","type":"quantitative","scale":{"domain":[0,367]},"axis":{"values":[1,47,93,139,185,231,277,323],"tickCount":30,"title":"DoY","labelOverlap":false,"labelAngle":270,"labelFlush":false,"labelFontSize":7.5}},"y":{"field":"r","type":"quantitative","scale":{"domain":[0,30]},"axis":{"orient":"right","values":[0,5,10,15,20,25,30],"title":"Rainfall, mm"}}}},
{"data":{"name":"sm"},"transform":[{"filter":"datum.y==2020"}],"mark":{"type":"line","strokeWidth":1},"encoding":{"x":{"field":"d","type":"quantitative"},"y":{"field":"v","type":"quantitative","scale":{"domain":[0,0.5]},"axis":{"orient":"left","values":[0,0.1,0.2,0.3,0.4,0.5],"title":"SM, cm³ cm⁻³","grid":true}},"color":{"datum":"Rainfed SM","title":"LEGEND","scale":{"domain":["Rainfed SM","Rainfall"],"range":["#B8952F","#1F6FBF"]}}}}
],"resolve":{"scale":{"y":"independent"}}}
]},
{"spacing": 12, "hconcat": [
{"title":"2021","layer":[
{"data":{"name":"rain"},"transform":[{"filter":"datum.y==2021"}],"mark":{"type":"bar","width":1.3,"color":"#1F6FBF"},"encoding":{"x":{"field":"d","type":"quantitative","scale":{"domain":[0,366]},"axis":{"values":[1,42,83,124,165,206,247,288,329],"tickCount":30,"title":"DoY","labelOverlap":false,"labelAngle":270,"labelFlush":false,"labelFontSize":7.5}},"y":{"field":"r","type":"quantitative","scale":{"domain":[0,25]},"axis":{"orient":"right","values":[0,5,10,15,20,25],"title":"Rainfall, mm"}}}},
{"data":{"name":"sm"},"transform":[{"filter":"datum.y==2021"}],"mark":{"type":"line","strokeWidth":1},"encoding":{"x":{"field":"d","type":"quantitative"},"y":{"field":"v","type":"quantitative","scale":{"domain":[0,0.5]},"axis":{"orient":"left","values":[0,0.1,0.2,0.3,0.4,0.5],"title":"SM, cm³ cm⁻³","grid":true}},"color":{"datum":"Rainfed SM","title":"LEGEND","scale":{"domain":["Rainfed SM","Rainfall"],"range":["#B8952F","#1F6FBF"]}}}}
],"resolve":{"scale":{"y":"independent"}}},
{"title":"2022","layer":[
{"data":{"name":"rain"},"transform":[{"filter":"datum.y==2022"}],"mark":{"type":"bar","width":1.3,"color":"#1F6FBF"},"encoding":{"x":{"field":"d","type":"quantitative","scale":{"domain":[0,366]},"axis":{"values":[1,42,83,124,165,206,247,288,329],"tickCount":30,"title":"DoY","labelOverlap":false,"labelAngle":270,"labelFlush":false,"labelFontSize":7.5}},"y":{"field":"r","type":"quantitative","scale":{"domain":[0,20]},"axis":{"orient":"right","values":[0,5,10,15,20],"title":"Rainfall, mm"}}}},
{"data":{"name":"sm"},"transform":[{"filter":"datum.y==2022"}],"mark":{"type":"line","strokeWidth":1},"encoding":{"x":{"field":"d","type":"quantitative"},"y":{"field":"v","type":"quantitative","scale":{"domain":[0,0.5]},"axis":{"orient":"left","values":[0,0.1,0.2,0.3,0.4,0.5],"title":"SM, cm³ cm⁻³","grid":true}},"color":{"datum":"Rainfed SM","title":"LEGEND","scale":{"domain":["Rainfed SM","Rainfall"],"range":["#B8952F","#1F6FBF"]}}}}
],"resolve":{"scale":{"y":"independent"}}}
]}
],
"config": {
"view": {"continuousWidth": 100, "continuousHeight": 62, "stroke": "#a6a6a6", "strokeWidth": 0.8},
"axis": {"labelFont": "Liberation Sans", "labelFontSize": 8.5, "labelColor": "#595959", "titleFont": "Liberation Serif", "titleFontWeight": "bold", "titleFontSize": 9.5, "titleColor": "#000000", "domain": false, "ticks": false, "grid": false, "gridColor": "#d9d9d9", "gridWidth": 0.8, "labelPadding": 3, "titlePadding": 3},
"axisRight": {"titleAngle": 270, "titleBaseline": "top"},
"title": {"font": "Liberation Serif", "fontWeight": "bold", "fontSize": 10, "offset": 9, "color": "#000000"},
"legend": {"orient": "none", "legendX": 160, "legendY": 374, "direction": "horizontal", "symbolType": "stroke", "symbolSize": 900, "symbolStrokeWidth": 2, "labelFont": "Liberation Serif", "labelFontWeight": "bold", "labelFontSize": 10, "labelColor": "#000000", "titleFont": "Liberation Serif", "titleFontWeight": "bold", "titleFontSize": 10, "titleColor": "#000000", "titleAnchor": "middle", "titlePadding": 0, "columnPadding": 45, "labelOffset": 8}
}
}
